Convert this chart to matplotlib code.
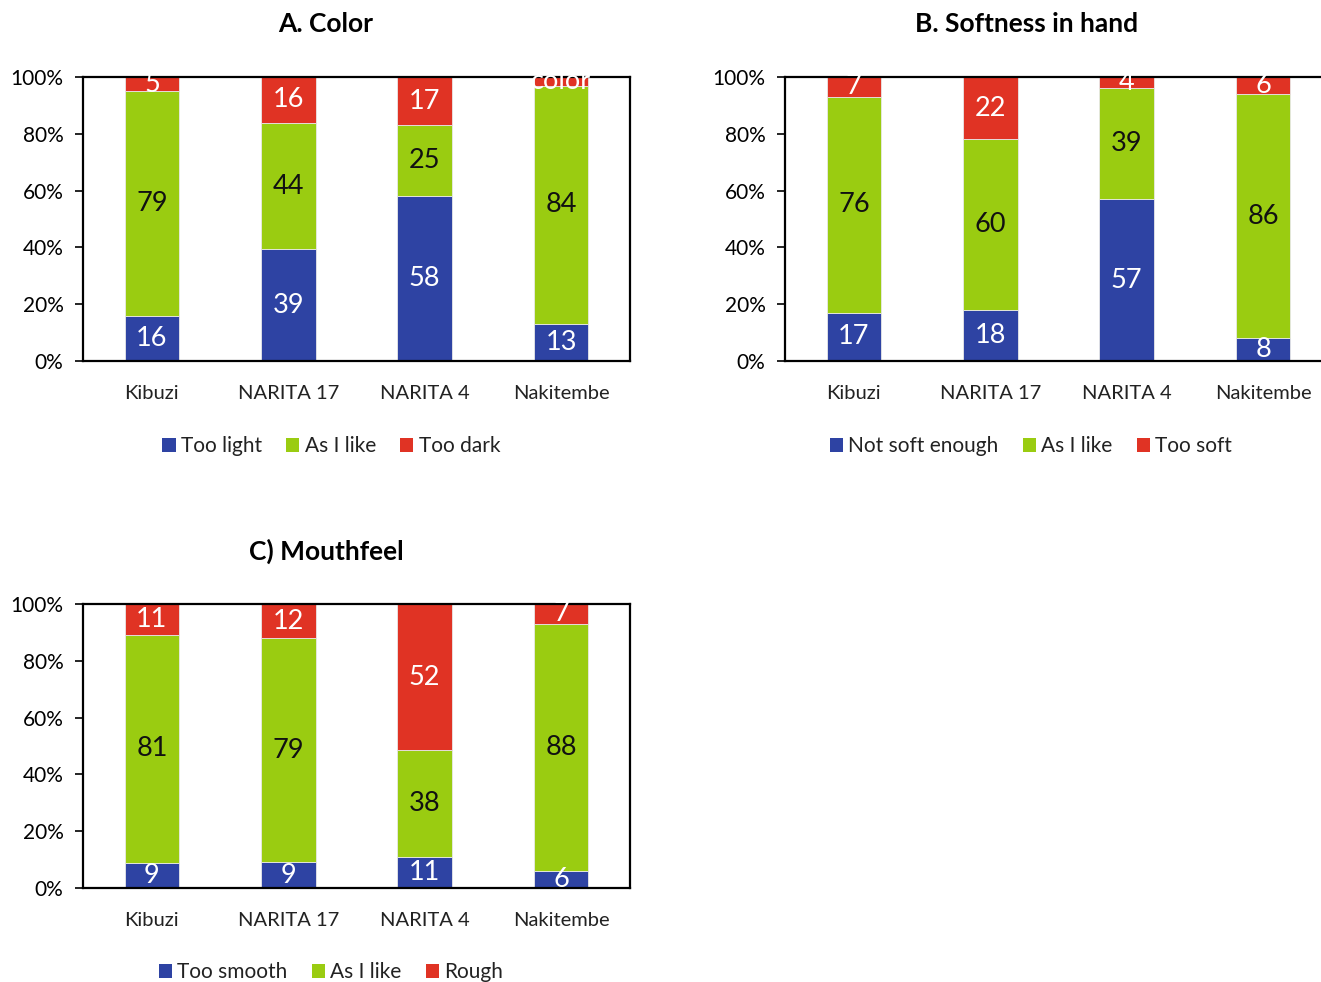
import numpy as np
import matplotlib
matplotlib.use("Agg")
import matplotlib.pyplot as plt
from matplotlib.patches import Patch

plt.rcParams['font.family'] = ['Lato', 'DejaVu Sans']

varieties = ['Kibuzi', 'NARITA 17', 'NARITA 4', 'Nakitembe']

# A. Color
color_labels = ['Too light', 'As I like', 'Too dark']
color_low = [16, 39, 58, 13]
color_ok = [79, 44, 25, 84]
color_high = [5, 16, 17, 3]

# B. Softness in hand
soft_labels = ['Not soft enough', 'As I like', 'Too soft']
soft_low = [17, 18, 57, 8]
soft_ok = [76, 60, 39, 86]
soft_high = [7, 22, 4, 6]

# C) Mouthfeel
mouth_labels = ['Too smooth', 'As I like', 'Rough']
mouth_low = [9, 9, 11, 6]
mouth_ok = [81, 79, 38, 88]
mouth_high = [11, 12, 52, 7]

BLUE = '#2E43A3'
GREEN = '#9ACC11'
RED = '#E03324'
seg_colors = [BLUE, GREEN, RED]
txt_colors = ['white', '#111111', 'white']


def stacked_panel(ax, series, text_override=None):
    data = np.array(series, dtype=float)
    totals = data.sum(axis=0)
    pct = data / totals * 100
    x = np.arange(len(varieties))
    bottom = np.zeros(len(varieties))
    for i, (vals, p) in enumerate(zip(data, pct)):
        ax.bar(x, p, 0.4, bottom=bottom, color=seg_colors[i],
               edgecolor='#e8e8e8', linewidth=0.6, zorder=2)
        for j in range(len(x)):
            label = f'{vals[j]:.0f}'
            if text_override and (i, j) in text_override:
                label = text_override[(i, j)]
            ax.text(x[j], bottom[j] + p[j] / 2, label, ha='center', va='center',
                    fontsize=19.5, color=txt_colors[i], zorder=3)
        bottom += p
    ax.set_xlim(-0.505, 3.505)
    ax.set_ylim(0, 100)
    ax.set_yticks(np.arange(0, 101, 20))
    ax.set_yticklabels([f'{v}%' for v in range(0, 101, 20)], fontsize=15)
    ax.set_xticks(x)
    ax.set_xticklabels(varieties, fontsize=14.5, color='#222222')
    ax.tick_params(axis='x', length=0, pad=17)
    ax.tick_params(axis='y', length=6, width=1.2, direction='out', pad=8)
    for s in ax.spines.values():
        s.set_linewidth(1.6)
        s.set_color('black')


fig = plt.figure(figsize=(13.21, 9.82), dpi=100)
W, H = 1321, 982


def add_axes(left, top, right, bottom):
    return fig.add_axes([left / W, 1 - bottom / H, (right - left) / W, (bottom - top) / H])


axA = add_axes(83, 77, 630, 361)
axB = add_axes(785, 77, 1332, 361)
axC = add_axes(83, 604, 630, 888)

stacked_panel(axA, [color_low, color_ok, color_high], text_override={(2, 3): 'color'})
stacked_panel(axB, [soft_low, soft_ok, soft_high])
stacked_panel(axC, [mouth_low, mouth_ok, mouth_high])

fig.text(326 / W, 1 - 24 / H, 'A. Color', ha='center', va='center', fontsize=19, fontweight='bold')
fig.text(1027 / W, 1 - 24 / H, 'B. Softness in hand', ha='center', va='center', fontsize=19, fontweight='bold')
fig.text(326 / W, 1 - 551 / H, 'C) Mouthfeel', ha='center', va='center', fontsize=19, fontweight='bold')


def add_legend(labels, cx, cy):
    handles = [Patch(facecolor=c, edgecolor='none') for c in seg_colors]
    fig.legend(handles, labels, loc='center', bbox_to_anchor=(cx / W, 1 - cy / H),
               ncol=3, frameon=False, fontsize=15, handlelength=0.65, handleheight=0.65,
               handletextpad=0.25, columnspacing=1.15, labelcolor='#222222')


add_legend(color_labels, 331, 446)
add_legend(soft_labels, 1031, 446)
add_legend(mouth_labels, 331, 972)

fig.savefig('out.png', dpi=100)
